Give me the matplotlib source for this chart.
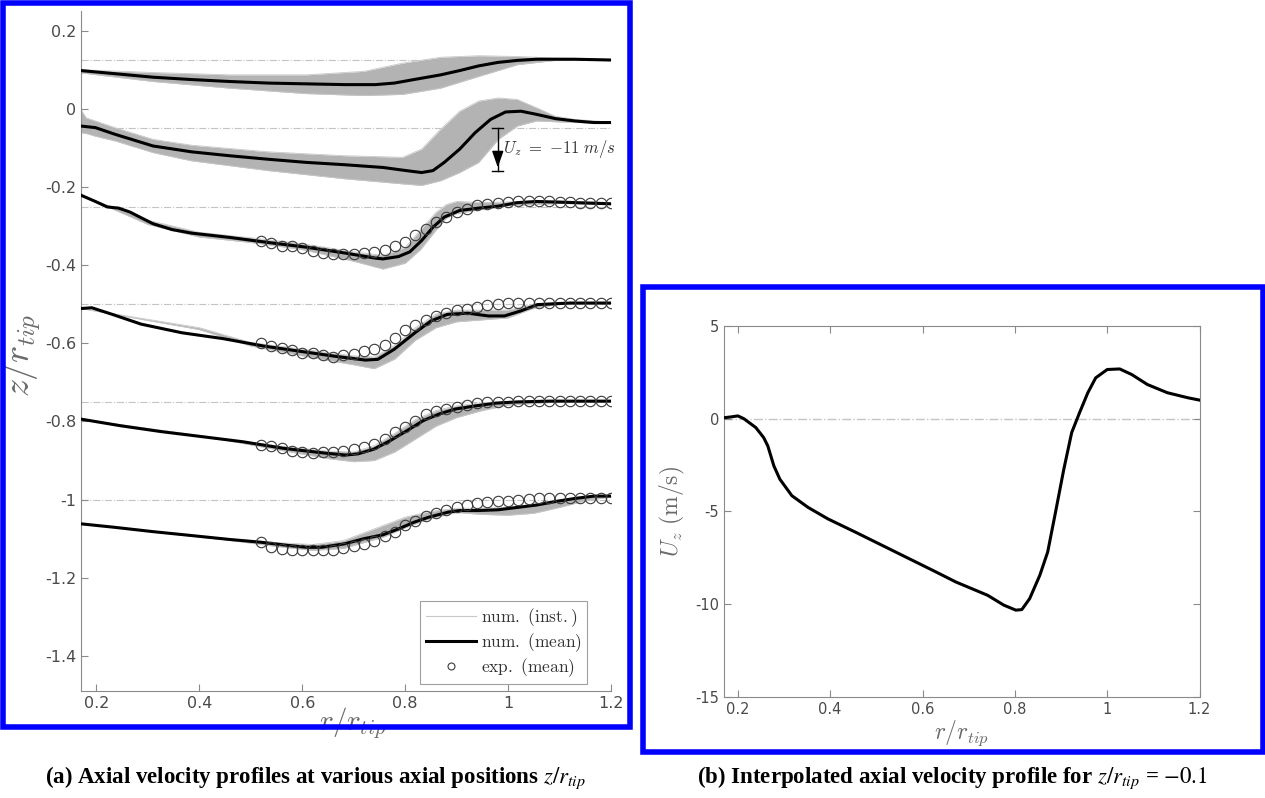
import numpy as np
import matplotlib
matplotlib.use("Agg")
import matplotlib.pyplot as plt
from matplotlib.patches import Rectangle
from matplotlib.lines import Line2D

plt.rcParams["mathtext.fontset"] = "cm"
plt.rcParams["axes.unicode_minus"] = False
plt.rcParams["font.family"] = "DejaVu Sans"

# ---- (a) profiles: reference positions z/r_tip
z_ref = [0.125, -0.05, -0.25, -0.5, -0.75, -1.0]

# mean numerical profiles (r, z)
r_m1 = [0.17, 0.236, 0.31, 0.385, 0.459, 0.534, 0.608, 0.683, 0.742, 0.779, 0.817, 0.869, 0.906, 0.943, 0.981, 1.018, 1.055, 1.13, 1.2]
z_m1 = [0.098, 0.090, 0.081, 0.075, 0.070, 0.066, 0.064, 0.062, 0.062, 0.066, 0.075, 0.087, 0.098, 0.110, 0.119, 0.124, 0.127, 0.127, 0.125]

r_m2 = [0.17, 0.198, 0.236, 0.31, 0.385, 0.459, 0.534, 0.608, 0.683, 0.757, 0.802, 0.832, 0.854, 0.876, 0.906, 0.936, 0.966, 0.995, 1.025, 1.055, 1.092, 1.13, 1.167, 1.2]
z_m2 = [-0.044, -0.048, -0.065, -0.095, -0.110, -0.120, -0.129, -0.137, -0.143, -0.150, -0.158, -0.163, -0.158, -0.137, -0.103, -0.061, -0.027, -0.008, -0.006, -0.014, -0.025, -0.031, -0.035, -0.035]

r_m3 = [0.17, 0.198, 0.221, 0.243, 0.265, 0.31, 0.347, 0.385, 0.459, 0.534, 0.608, 0.683, 0.742, 0.757, 0.787, 0.809, 0.832, 0.854, 0.876, 0.906, 0.943, 0.981, 1.018, 1.055, 1.13, 1.2]
z_m3 = [-0.221, -0.237, -0.251, -0.254, -0.264, -0.294, -0.309, -0.318, -0.329, -0.342, -0.354, -0.369, -0.382, -0.384, -0.378, -0.366, -0.337, -0.303, -0.277, -0.260, -0.254, -0.249, -0.240, -0.237, -0.240, -0.243]

r_m4 = [0.17, 0.191, 0.231, 0.287, 0.366, 0.446, 0.525, 0.604, 0.668, 0.723, 0.747, 0.779, 0.819, 0.85, 0.882, 0.922, 0.962, 0.993, 1.025, 1.057, 1.12, 1.2]
z_m4 = [-0.511, -0.509, -0.526, -0.551, -0.573, -0.588, -0.607, -0.622, -0.634, -0.643, -0.641, -0.615, -0.573, -0.543, -0.526, -0.523, -0.530, -0.530, -0.517, -0.501, -0.497, -0.497]

r_m5 = [0.17, 0.247, 0.326, 0.406, 0.485, 0.565, 0.644, 0.684, 0.708, 0.739, 0.771, 0.803, 0.835, 0.866, 0.898, 0.938, 0.977, 1.017, 1.081, 1.2]
z_m5 = [-0.794, -0.811, -0.826, -0.839, -0.852, -0.869, -0.881, -0.886, -0.883, -0.871, -0.849, -0.824, -0.798, -0.781, -0.768, -0.760, -0.753, -0.750, -0.748, -0.748]

r_m6 = [0.17, 0.236, 0.31, 0.385, 0.459, 0.519, 0.571, 0.608, 0.638, 0.683, 0.72, 0.757, 0.787, 0.817, 0.846, 0.884, 0.906, 0.943, 0.981, 1.018, 1.055, 1.092, 1.13, 1.167, 1.2]
z_m6 = [-1.062, -1.071, -1.082, -1.092, -1.102, -1.109, -1.117, -1.122, -1.122, -1.113, -1.100, -1.090, -1.075, -1.058, -1.045, -1.032, -1.028, -1.028, -1.026, -1.020, -1.014, -1.005, -0.997, -0.991, -0.991]

# envelope of the instantaneous profiles
r_b1 = [0.17, 0.31, 0.459, 0.608, 0.72, 0.795, 0.869, 0.943, 1.018, 1.092, 1.2]
hi_b1 = [0.100, 0.093, 0.087, 0.087, 0.096, 0.117, 0.132, 0.136, 0.134, 0.130, 0.127]
lo_b1 = [0.092, 0.070, 0.053, 0.039, 0.034, 0.037, 0.053, 0.083, 0.113, 0.124, 0.125]

r_b2 = [0.17, 0.18, 0.198, 0.236, 0.31, 0.385, 0.534, 0.683, 0.795, 0.832, 0.869, 0.906, 0.943, 0.981, 1.018, 1.055, 1.092, 1.13, 1.2]
hi_b2 = [-0.002, -0.023, -0.031, -0.048, -0.078, -0.093, -0.110, -0.120, -0.124, -0.103, -0.052, -0.006, 0.020, 0.028, 0.024, 0.003, -0.019, -0.027, -0.034]
lo_b2 = [-0.061, -0.063, -0.070, -0.082, -0.112, -0.133, -0.158, -0.179, -0.192, -0.196, -0.184, -0.163, -0.137, -0.078, -0.044, -0.031, -0.033, -0.035, -0.037]

r_b3 = [0.17, 0.3, 0.4, 0.5, 0.6, 0.7, 0.757, 0.8, 0.83, 0.86, 0.88, 0.9, 0.95, 1.0, 1.1, 1.2]
hi_b3 = [-0.221, -0.285, -0.316, -0.330, -0.345, -0.366, -0.375, -0.355, -0.310, -0.265, -0.245, -0.237, -0.240, -0.238, -0.235, -0.240]
lo_b3 = [-0.221, -0.296, -0.328, -0.342, -0.360, -0.390, -0.410, -0.395, -0.360, -0.310, -0.280, -0.268, -0.257, -0.248, -0.242, -0.245]

r_b4 = [0.17, 0.4, 0.5, 0.6, 0.7, 0.74, 0.78, 0.82, 0.86, 0.9, 0.95, 1.0, 1.05, 1.1, 1.2]
hi_b4 = [-0.511, -0.560, -0.598, -0.615, -0.632, -0.635, -0.605, -0.560, -0.525, -0.515, -0.515, -0.515, -0.500, -0.495, -0.495]
lo_b4 = [-0.511, -0.565, -0.607, -0.632, -0.655, -0.665, -0.640, -0.592, -0.560, -0.545, -0.540, -0.535, -0.510, -0.500, -0.498]

r_b5 = [0.17, 0.45, 0.55, 0.65, 0.7, 0.74, 0.78, 0.82, 0.86, 0.9, 0.95, 1.0, 1.1, 1.2]
hi_b5 = [-0.794, -0.845, -0.862, -0.876, -0.878, -0.862, -0.830, -0.795, -0.772, -0.760, -0.752, -0.749, -0.747, -0.747]
lo_b5 = [-0.794, -0.848, -0.872, -0.895, -0.903, -0.900, -0.878, -0.845, -0.812, -0.790, -0.772, -0.758, -0.750, -0.749]

r_b6 = [0.17, 0.45, 0.55, 0.62, 0.68, 0.72, 0.76, 0.8, 0.85, 0.9, 0.95, 1.0, 1.05, 1.1, 1.15, 1.2]
hi_b6 = [-1.062, -1.100, -1.110, -1.115, -1.105, -1.085, -1.065, -1.045, -1.030, -1.022, -1.022, -1.020, -1.012, -1.000, -0.992, -0.990]
lo_b6 = [-1.062, -1.103, -1.120, -1.130, -1.125, -1.110, -1.095, -1.072, -1.048, -1.033, -1.038, -1.040, -1.035, -1.020, -1.003, -0.993]

# experimental mean, r = 0.52 ... 1.20 step 0.02
r_exp = np.round(np.arange(0.52, 1.2001, 0.02), 2)
z_e3 = [-0.337, -0.344, -0.350, -0.350, -0.357, -0.363, -0.369, -0.372, -0.372, -0.372, -0.369, -0.366, -0.360, -0.350, -0.340, -0.324, -0.307, -0.290, -0.277, -0.264, -0.256, -0.247, -0.243, -0.240, -0.239, -0.237, -0.237, -0.237, -0.237, -0.239, -0.239, -0.240, -0.240, -0.240, -0.240]
z_e4 = [-0.600, -0.608, -0.613, -0.617, -0.624, -0.626, -0.631, -0.634, -0.631, -0.628, -0.620, -0.614, -0.605, -0.586, -0.566, -0.554, -0.540, -0.530, -0.522, -0.516, -0.511, -0.506, -0.503, -0.500, -0.498, -0.496, -0.496, -0.496, -0.496, -0.496, -0.496, -0.496, -0.496, -0.496, -0.496]
z_e5 = [-0.860, -0.864, -0.869, -0.875, -0.879, -0.881, -0.879, -0.877, -0.875, -0.871, -0.866, -0.858, -0.845, -0.828, -0.815, -0.798, -0.781, -0.773, -0.767, -0.762, -0.757, -0.754, -0.751, -0.750, -0.749, -0.748, -0.748, -0.748, -0.748, -0.748, -0.748, -0.748, -0.748, -0.748, -0.748]
z_e6 = [-1.109, -1.122, -1.126, -1.128, -1.130, -1.130, -1.130, -1.128, -1.124, -1.120, -1.113, -1.105, -1.094, -1.082, -1.066, -1.054, -1.043, -1.034, -1.026, -1.020, -1.014, -1.009, -1.005, -1.003, -1.003, -1.000, -0.998, -0.997, -0.996, -0.996, -0.996, -0.996, -0.997, -0.997, -0.997]

# ---- (b) interpolated profile at z/r_tip = -0.1
r_b = [0.17, 0.187, 0.2, 0.213, 0.239, 0.256, 0.265, 0.278, 0.291, 0.317, 0.352, 0.395, 0.455, 0.542, 0.629, 0.672, 0.741, 0.776, 0.802, 0.815, 0.832, 0.854, 0.871, 0.888, 0.906, 0.923, 0.94, 0.958, 0.975, 1.0, 1.027, 1.053, 1.087, 1.13, 1.174, 1.2]
u_b = [0.05, 0.1, 0.15, 0.0, -0.48, -1.02, -1.47, -2.54, -3.26, -4.15, -4.78, -5.40, -6.12, -7.19, -8.26, -8.80, -9.52, -10.05, -10.32, -10.29, -9.70, -8.44, -7.19, -5.04, -2.72, -0.75, 0.32, 1.40, 2.20, 2.65, 2.68, 2.38, 1.84, 1.40, 1.13, 1.0]

means = [(r_m1, z_m1), (r_m2, z_m2), (r_m3, z_m3), (r_m4, z_m4), (r_m5, z_m5), (r_m6, z_m6)]
bands = [(r_b1, lo_b1, hi_b1), (r_b2, lo_b2, hi_b2), (r_b3, lo_b3, hi_b3),
         (r_b4, lo_b4, hi_b4), (r_b5, lo_b5, hi_b5), (r_b6, lo_b6, hi_b6)]
exps = [z_e3, z_e4, z_e5, z_e6]

TICK_C = "#4a4a4a"
LABEL_C = "#6a6a6a"
SPINE_C = "#8a8a8a"
BAND_C = "#b3b3b3"

fig = plt.figure(figsize=(12.65, 7.98), dpi=100)

# ---------------- panel (a)
ax = fig.add_axes([0.064, 0.134, 0.419, 0.852])
for z0 in z_ref:
    ax.axhline(z0, color="#c4c4c4", lw=0.8, ls="-.", zorder=1)
for r, lo, hi in bands:
    ax.fill_between(r, lo, hi, color=BAND_C, lw=0, zorder=2)
    ax.plot(r, lo, color="#c8c8c8", lw=0.6, zorder=2)
    ax.plot(r, hi, color="#c8c8c8", lw=0.6, zorder=2)
for r, z in means:
    ax.plot(r, z, color="black", lw=2.2, zorder=4, solid_joinstyle="round")
for z in exps:
    ax.plot(r_exp, z, ls="none", marker="o", ms=7.5, mfc="none",
            mec="#3a3a3a", mew=0.8, zorder=5)

# scale arrow: U_z = -11 m/s
xa = 0.98
ax.plot([xa, xa], [-0.05, -0.16], color="black", lw=1.0, zorder=6)
ax.plot([xa - 0.011, xa + 0.011], [-0.05, -0.05], color="black", lw=1.0, zorder=6)
ax.plot([xa - 0.011, xa + 0.011], [-0.16, -0.16], color="black", lw=1.0, zorder=6)
ax.annotate("", xy=(xa, -0.157), xytext=(xa, -0.12),
            arrowprops=dict(arrowstyle="-|>,head_width=0.35,head_length=1.0",
                            color="black", lw=1.0), zorder=6)
ax.text(0.99, -0.102, r"$U_z\ =\ \mathit{-11\ m/s}$", fontsize=12,
        color="#333333", va="center", ha="left", zorder=6)

ax.set_xlim(0.17, 1.2)
ax.set_ylim(-1.49, 0.25)
ax.set_xticks([0.2, 0.4, 0.6, 0.8, 1.0, 1.2])
ax.set_xticklabels(["0.2", "0.4", "0.6", "0.8", "1", "1.2"])
ax.set_yticks([0.2, 0, -0.2, -0.4, -0.6, -0.8, -1.0, -1.2, -1.4])
ax.set_yticklabels(["0.2", "0", "-0.2", "-0.4", "-0.6", "-0.8", "-1", "-1.2", "-1.4"])
ax.tick_params(direction="in", length=5, width=0.8, colors=SPINE_C,
               labelcolor=TICK_C, labelsize=11.5)
for s in ["top", "right"]:
    ax.spines[s].set_visible(False)
for s in ["left", "bottom"]:
    ax.spines[s].set_color(SPINE_C)
    ax.spines[s].set_linewidth(0.8)
ax.set_xlabel(r"$r/r_{tip}$", fontsize=21, color=LABEL_C)
ax.xaxis.set_label_coords(0.513, -0.021)
ax.set_ylabel(r"$z/r_{tip}$", fontsize=26, color=LABEL_C)
ax.yaxis.set_label_coords(-0.072, 0.494)

handles = [Line2D([], [], color="#c8c8c8", lw=0.8),
           Line2D([], [], color="black", lw=2.2),
           Line2D([], [], ls="none", marker="o", ms=5, mfc="none", mec="#3a3a3a", mew=0.8)]
labels = [r"$\mathrm{num.\ (inst.)}$", r"$\mathrm{num.\ (mean)}$", r"$\mathrm{exp.\ (mean)}$"]
leg = ax.legend(handles, labels, loc="lower right", bbox_to_anchor=(0.962, 0.005),
                fontsize=12.5, frameon=True, fancybox=False, framealpha=1,
                edgecolor="#a0a0a0", handlelength=2.9, handletextpad=0.3,
                borderpad=0.3, labelspacing=0.12, borderaxespad=0.2)
leg.get_frame().set_linewidth(0.8)
for t in leg.get_texts():
    t.set_color("#333333")

# ---------------- panel (b)
bx = fig.add_axes([0.5723, 0.1266, 0.376, 0.465])
bx.axhline(0, color="#c4c4c4", lw=1.0, ls="-.", zorder=1)
bx.plot(r_b, u_b, color="black", lw=2.2, zorder=3, solid_joinstyle="round")
bx.set_xlim(0.17, 1.2)
bx.set_ylim(-15, 5)
bx.set_xticks([0.2, 0.4, 0.6, 0.8, 1.0, 1.2])
bx.set_xticklabels(["0.2", "0.4", "0.6", "0.8", "1", "1.2"])
bx.set_yticks([5, 0, -5, -10, -15])
bx.set_yticklabels(["5", "0", "-5", "-10", "-15"])
bx.tick_params(direction="in", length=5, width=0.8, colors=SPINE_C,
               labelcolor=TICK_C, labelsize=10.5, top=True, right=True)
for s in bx.spines.values():
    s.set_color(SPINE_C)
    s.set_linewidth(0.8)
bx.set_xlabel(r"$r/r_{tip}$", fontsize=17, color=LABEL_C, labelpad=1)
bx.set_ylabel(r"$U_z\ \mathrm{(m/s)}$", fontsize=17, color=LABEL_C, labelpad=6)

# blue frames around the two panels
fig.patches.append(Rectangle((0.0024, 0.089), 0.4957, 0.907, transform=fig.transFigure,
                             fill=False, edgecolor="#0000ff", lw=4))
fig.patches.append(Rectangle((0.5083, 0.0576), 0.490, 0.583, transform=fig.transFigure,
                             fill=False, edgecolor="#0000ff", lw=4))

# captions
fig.text(0.249, 0.025, r"(a) Axial velocity profiles at various axial positions $z/r_{tip}$",
         ha="center", va="center", fontsize=16.5, family="Liberation Serif",
         weight="bold", math_fontfamily="stix")
fig.text(0.753, 0.025, r"(b) Interpolated axial velocity profile for $z/r_{tip}$ = $-0.1$",
         ha="center", va="center", fontsize=16.5, family="Liberation Serif",
         weight="bold", math_fontfamily="stix")

fig.savefig("out.png", dpi=100)
